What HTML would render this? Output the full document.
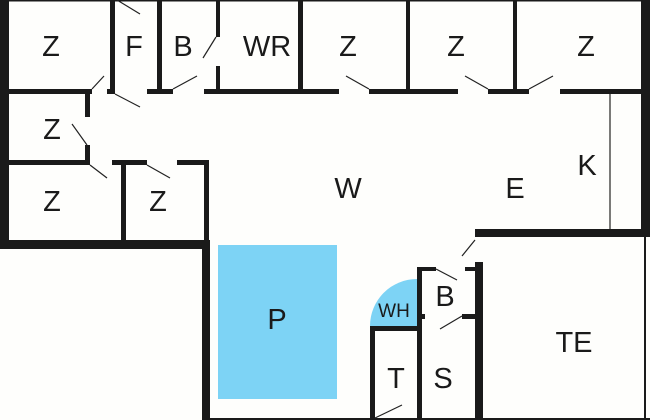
<!DOCTYPE html>
<html><head><meta charset="utf-8"><style>
html,body{margin:0;padding:0;background:#fff;}
svg{display:block;}
text{font-family:"Liberation Sans",sans-serif;fill:#1a1a1a;text-anchor:middle;}
</style></head><body>
<svg width="650" height="420" viewBox="0 0 650 420" xmlns="http://www.w3.org/2000/svg">
<rect width="650" height="420" fill="#fefefc"/>
<rect x="218" y="245" width="119" height="154" fill="#7dd3f5"/>
<path d="M417,326 L370,326 A47,47 0 0 1 417,279 Z" fill="#7dd3f5"/>
<g fill="#1a1a1a">
<rect x="0" y="0" width="9" height="249"/>
<rect x="0" y="0" width="650" height="1.5"/>
<rect x="110" y="0" width="5" height="94"/>
<rect x="157" y="0" width="5" height="94"/>
<rect x="216" y="0" width="4" height="37"/>
<rect x="216" y="66" width="4" height="28"/>
<rect x="298" y="0" width="5" height="94"/>
<rect x="406" y="0" width="4" height="94"/>
<rect x="513" y="0" width="4" height="94"/>
<rect x="641" y="0" width="9" height="237"/>
<rect x="9" y="89" width="83" height="5"/>
<rect x="107" y="89" width="8" height="5"/>
<rect x="147" y="89" width="26" height="5"/>
<rect x="204" y="89" width="135" height="5"/>
<rect x="369" y="89" width="89" height="5"/>
<rect x="488" y="89" width="41" height="5"/>
<rect x="560" y="89" width="81" height="5"/>
<rect x="85" y="89" width="5" height="28"/>
<rect x="85" y="145" width="5" height="20"/>
<rect x="9" y="160" width="81" height="5"/>
<rect x="112" y="160" width="35" height="5"/>
<rect x="177" y="160" width="32" height="5"/>
<rect x="121" y="160" width="5" height="81"/>
<rect x="204" y="160" width="5" height="82"/>
<rect x="0" y="240" width="210" height="9"/>
<rect x="202" y="240" width="8" height="180"/>
<rect x="210" y="418" width="440" height="2"/>
<rect x="475" y="229" width="175" height="8"/>
<rect x="475" y="229" width="7" height="8"/>
<rect x="475" y="262" width="8" height="158"/>
<rect x="644" y="237" width="2" height="183"/>
<rect x="417" y="267" width="19" height="4"/>
<rect x="465" y="267" width="13" height="4"/>
<rect x="417" y="267" width="5" height="153"/>
<rect x="417" y="314" width="8" height="5"/>
<rect x="462" y="314" width="20" height="5"/>
<rect x="370" y="326" width="52" height="5"/>
<rect x="370" y="326" width="5" height="94"/>
</g>
<g stroke="#222" stroke-width="1.2" fill="none">
<line x1="610" y1="94" x2="610" y2="229"/>
<line x1="117" y1="0" x2="140" y2="14"/>
<line x1="203" y1="58" x2="216" y2="37"/>
<line x1="173" y1="89" x2="197" y2="76"/>
<line x1="115" y1="94" x2="140" y2="107"/>
<line x1="92" y1="89" x2="104" y2="76"/>
<line x1="87" y1="145" x2="72" y2="124"/>
<line x1="90" y1="165" x2="107" y2="178"/>
<line x1="147" y1="165" x2="170" y2="178"/>
<line x1="369" y1="89" x2="346" y2="76"/>
<line x1="488" y1="89" x2="465" y2="76"/>
<line x1="529" y1="89" x2="553" y2="76"/>
<line x1="475" y1="240" x2="462" y2="256"/>
<line x1="436" y1="269" x2="457" y2="280"/>
<line x1="462" y1="316" x2="440" y2="329"/>
<line x1="375" y1="418" x2="402" y2="405"/>
</g>
<g font-size="29">
<text x="51" y="56">Z</text>
<text x="134" y="56">F</text>
<text x="183" y="56">B</text>
<text x="267" y="56">WR</text>
<text x="348" y="56">Z</text>
<text x="456" y="56">Z</text>
<text x="586" y="56">Z</text>
<text x="52" y="139">Z</text>
<text x="52" y="211">Z</text>
<text x="158" y="211">Z</text>
<text x="348" y="198">W</text>
<text x="515" y="198">E</text>
<text x="587" y="175">K</text>
<text x="277" y="329">P</text>
<text x="445" y="306">B</text>
<text x="396" y="388">T</text>
<text x="443" y="388">S</text>
<text x="574" y="352">TE</text>
</g>
<text x="394" y="317" font-size="19">WH</text>
</svg>
</body></html>
